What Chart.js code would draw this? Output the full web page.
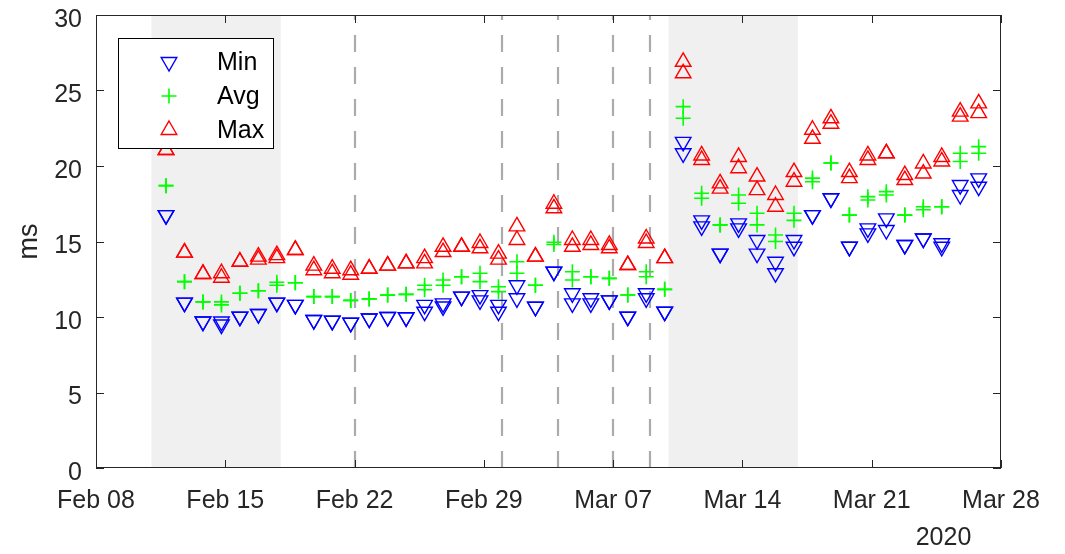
<!DOCTYPE html>
<html>
<head>
<meta charset="utf-8">
<script src="https://cdn.jsdelivr.net/npm/chart.js"></script>
<style>
  html, body { margin: 0; padding: 0; background: #ffffff; }
  #wrap { width: 1065px; height: 554px; position: relative; }
</style>
</head>
<body>
<div id="wrap"><canvas id="c" width="1065" height="554"></canvas></div>
<script>
// ---- data ----
const dates = [
  '2020-02-11','2020-02-12','2020-02-13','2020-02-14','2020-02-15','2020-02-16','2020-02-17',
  '2020-02-18','2020-02-19','2020-02-20','2020-02-21','2020-02-22','2020-02-23','2020-02-24',
  '2020-02-25','2020-02-26','2020-02-27','2020-02-28','2020-02-29','2020-03-01','2020-03-02',
  '2020-03-03','2020-03-04','2020-03-05','2020-03-06','2020-03-07','2020-03-08','2020-03-09',
  '2020-03-10','2020-03-11','2020-03-12','2020-03-13','2020-03-14','2020-03-15','2020-03-16',
  '2020-03-17','2020-03-18','2020-03-19','2020-03-20','2020-03-21','2020-03-22','2020-03-23',
  '2020-03-24','2020-03-25','2020-03-26'
];
const sampleHour = 19;

const minA = [16.75,10.95,9.7,9.7,10.02,10.2,10.95,10.8,9.8,9.75,9.62,9.9,10.0,9.98,10.8,10.9,11.35,11.45,10.8,12.1,10.68,13.0,11.57,11.24,11.1,10.02,11.57,10.35,21.6,16.4,14.2,16.2,15.1,13.66,15.1,16.75,17.86,14.65,15.87,16.53,14.77,15.2,14.88,18.74,19.18];
const minB = [16.75,10.95,9.7,9.5,10.02,10.2,10.95,10.8,9.8,9.75,9.62,9.9,10.0,9.98,10.35,10.7,11.35,11.1,10.35,11.24,10.68,13.0,10.9,10.9,11.1,10.02,11.24,10.35,20.84,16.0,14.2,15.87,14.2,12.9,14.65,16.75,17.86,14.65,15.54,15.76,14.77,15.2,14.65,18.08,18.63];
const avgA = [18.7,12.34,11.0,11.0,11.57,11.74,12.3,12.27,11.35,11.35,11.1,11.2,11.45,11.5,12.1,12.45,12.67,12.9,12.0,13.66,12.1,14.95,13.0,12.67,12.56,11.46,13.0,11.83,23.93,18.2,16.1,18.08,16.87,15.43,16.87,19.2,20.2,16.75,17.97,18.3,16.75,17.3,17.3,20.84,21.28];
const avgB = [18.7,12.34,11.0,10.8,11.57,11.74,12.1,12.27,11.35,11.35,11.1,11.2,11.45,11.5,11.8,12.1,12.67,12.34,11.68,12.9,12.1,14.8,12.45,12.67,12.56,11.46,12.67,11.83,23.16,17.86,16.1,17.53,16.1,15.0,16.4,18.96,20.2,16.75,17.75,18.08,16.75,17.1,17.3,20.3,20.84];
const maxA = [21.06,14.26,12.85,12.9,13.66,14.0,14.1,14.44,13.4,13.2,13.1,13.2,13.4,13.55,13.9,14.65,14.65,14.9,14.2,16.0,14.0,17.5,15.1,15.1,14.77,13.44,15.2,13.9,26.9,20.7,18.85,20.6,19.3,18.08,19.6,22.4,23.16,19.6,20.7,20.84,19.4,20.17,20.6,23.6,24.15];
const maxB = [21.06,14.26,12.85,12.6,13.66,13.8,13.9,14.44,13.1,12.9,12.8,13.2,13.4,13.55,13.55,14.3,14.65,14.55,13.8,15.1,14.0,17.2,14.65,14.77,14.55,13.44,14.9,13.9,26.14,20.4,18.5,19.85,18.4,17.3,18.96,21.8,22.8,19.2,20.4,20.84,19.07,19.5,20.3,23.27,23.5];

const xTickLabels = ['Feb 08','Feb 15','Feb 22','Feb 29','Mar 07','Mar 14','Mar 21','Mar 28'];
const xStartDate = '2020-02-08';
const xEndDate = '2020-03-28';
const yTicks = [0, 5, 10, 15, 20, 25, 30];
const shadedRanges = [['2020-02-11','2020-02-18'], ['2020-03-10','2020-03-17']];
const dashedDates = ['2020-02-22','2020-03-01','2020-03-04','2020-03-07','2020-03-09'];
const yearLabel = '2020';
const yLabel = 'ms';
const seriesNames = ['Min', 'Avg', 'Max'];

// ---- helpers ----
function dayOf(iso) {
  const p = iso.split('-').map(Number);
  const b = xStartDate.split('-').map(Number);
  return (Date.UTC(p[0], p[1]-1, p[2]) - Date.UTC(b[0], b[1]-1, b[2])) / 86400000;
}
const xs = dates.map(d => dayOf(d) + sampleHour / 24);
const pts = arr => arr.map((v, i) => ({x: xs[i], y: v}));

const FONT = '"Liberation Sans", Arial, Helvetica, sans-serif';
const AXC = '#262626';
const BLUE = '#0000ff', GREEN = '#00ff00', RED = '#ff0000';

const styleMin = {pointStyle: 'triangle', rotation: 180, radius: 9, color: BLUE, lw: 1.4};
const styleAvg = {pointStyle: 'cross', rotation: 0, radius: 7.5, color: GREEN, lw: 1.6};
const styleMax = {pointStyle: 'triangle', rotation: 0, radius: 9, color: RED, lw: 1.4};

function ds(label, data, st) {
  return {
    label, data: pts(data), showLine: false,
    pointStyle: st.pointStyle, pointRotation: st.rotation, pointRadius: st.radius,
    borderColor: st.color, backgroundColor: 'rgba(0,0,0,0)', pointBorderWidth: st.lw,
    pointBackgroundColor: 'rgba(0,0,0,0)', pointBorderColor: st.color
  };
}

const bgPlugin = {
  id: 'bg',
  beforeDatasetsDraw(chart) {
    const {ctx, chartArea: a, scales: {x}} = chart;
    ctx.save();
    ctx.beginPath(); ctx.rect(a.left, a.top, a.right - a.left, a.bottom - a.top); ctx.clip();
    ctx.fillStyle = '#f0f0f0';
    shadedRanges.forEach(r => {
      const x0 = x.getPixelForValue(dayOf(r[0])), x1 = x.getPixelForValue(dayOf(r[1]));
      ctx.fillRect(x0, a.top, x1 - x0, a.bottom - a.top);
    });
    ctx.strokeStyle = 'rgba(150,150,150,0.8)';
    ctx.lineWidth = 2.2;
    ctx.setLineDash([17, 15]);
    dashedDates.forEach(d => {
      const px = Math.round(x.getPixelForValue(dayOf(d)));
      ctx.beginPath(); ctx.moveTo(px, a.bottom); ctx.lineTo(px, a.top); ctx.stroke();
    });
    ctx.restore();
  }
};

function drawMarker(ctx, st, cx, cy) {
  ctx.save();
  ctx.strokeStyle = st.color; ctx.lineWidth = st.lw;
  ctx.beginPath();
  const r = st.radius;
  if (st.pointStyle === 'cross') {
    ctx.moveTo(cx - r, cy); ctx.lineTo(cx + r, cy);
    ctx.moveTo(cx, cy - r); ctx.lineTo(cx, cy + r);
  } else {
    let rad = st.rotation * Math.PI / 180;
    for (let k = 0; k < 3; k++) {
      const px = cx + Math.sin(rad) * r, py = cy - Math.cos(rad) * r;
      if (k === 0) ctx.moveTo(px, py); else ctx.lineTo(px, py);
      rad += 2 * Math.PI / 3;
    }
    ctx.closePath();
  }
  ctx.stroke();
  ctx.restore();
}

const frontPlugin = {
  id: 'front',
  afterDatasetsDraw(chart) {
    const {ctx, chartArea: a, scales: {x, y}} = chart;
    ctx.save();
    ctx.strokeStyle = AXC; ctx.lineWidth = 1;
    ctx.strokeRect(a.left + 0.5, a.top + 0.5, a.right - a.left - 1, a.bottom - a.top - 1);
    const tl = 8;
    ctx.beginPath();
    xTickLabels.forEach((_, i) => {
      const px = Math.round(x.getPixelForValue(i * 7)) + 0.5;
      ctx.moveTo(px, a.bottom); ctx.lineTo(px, a.bottom - tl);
      ctx.moveTo(px, a.top); ctx.lineTo(px, a.top + tl);
    });
    yTicks.forEach(v => {
      const py = Math.round(y.getPixelForValue(v)) + 0.5;
      ctx.moveTo(a.left, py); ctx.lineTo(a.left + tl, py);
      ctx.moveTo(a.right, py); ctx.lineTo(a.right - tl, py);
    });
    ctx.stroke();

    // legend
    const lx = 118.5, ly = 38.5, lw = 155, lh = 110;
    ctx.fillStyle = '#ffffff';
    ctx.fillRect(lx, ly, lw, lh);
    ctx.strokeStyle = '#000000'; ctx.lineWidth = 1;
    ctx.strokeRect(lx, ly, lw, lh);
    const rows = [62, 96, 130];
    const sts = [styleMin, styleAvg, styleMax];
    ctx.font = '25px ' + FONT;
    ctx.textBaseline = 'middle'; ctx.textAlign = 'left';
    rows.forEach((ry, i) => {
      drawMarker(ctx, sts[i], 169, ry);
      ctx.fillStyle = '#000000';
      ctx.fillText(seriesNames[i], 217, ry + 1);
    });

    // year label
    ctx.fillStyle = AXC;
    ctx.textAlign = 'center';
    ctx.fillText(yearLabel, 943.5, 538);
    ctx.restore();
  }
};

new Chart(document.getElementById('c'), {
  type: 'scatter',
  data: {
    datasets: [
      ds(seriesNames[0], minA, styleMin),
      ds(seriesNames[1], avgA, styleAvg),
      ds(seriesNames[2], maxA, styleMax),
      ds(seriesNames[0] + ' 2', minB, styleMin),
      ds(seriesNames[1] + ' 2', avgB, styleAvg),
      ds(seriesNames[2] + ' 2', maxB, styleMax)
    ]
  },
  options: {
    responsive: false,
    animation: false,
    events: [],
    layout: { padding: { left: 0, right: 64, top: 15, bottom: 0 } },
    plugins: { legend: { display: false }, tooltip: { enabled: false } },
    scales: {
      x: {
        type: 'linear',
        min: 0, max: dayOf(xEndDate),
        afterBuildTicks(s) { s.ticks = xTickLabels.map((_, i) => ({value: i * 7})); },
        afterFit(s) { s.height = 86; s.paddingLeft = 0; s.paddingRight = 0; },
        grid: { display: false, drawTicks: false },
        border: { display: false },
        ticks: {
          autoSkip: false, maxRotation: 0, padding: 18,
          color: AXC, font: { family: FONT, size: 25 },
          callback: (v) => xTickLabels[Math.round(v / 7)]
        }
      },
      y: {
        min: 0, max: 30,
        afterBuildTicks(s) { s.ticks = yTicks.map(v => ({value: v})); },
        afterFit(s) { s.width = 96; s.paddingTop = 0; s.paddingBottom = 0; },
        grid: { display: false, drawTicks: false },
        border: { display: false },
        ticks: {
          padding: 14, labelOffset: 5,
          color: AXC, font: { family: FONT, size: 25 }
        },
        title: {
          display: true, text: yLabel, color: AXC,
          font: { family: FONT, size: 27 }, padding: { top: 13, bottom: 0 }
        }
      }
    }
  },
  plugins: [bgPlugin, frontPlugin]
});
</script>
</body>
</html>
